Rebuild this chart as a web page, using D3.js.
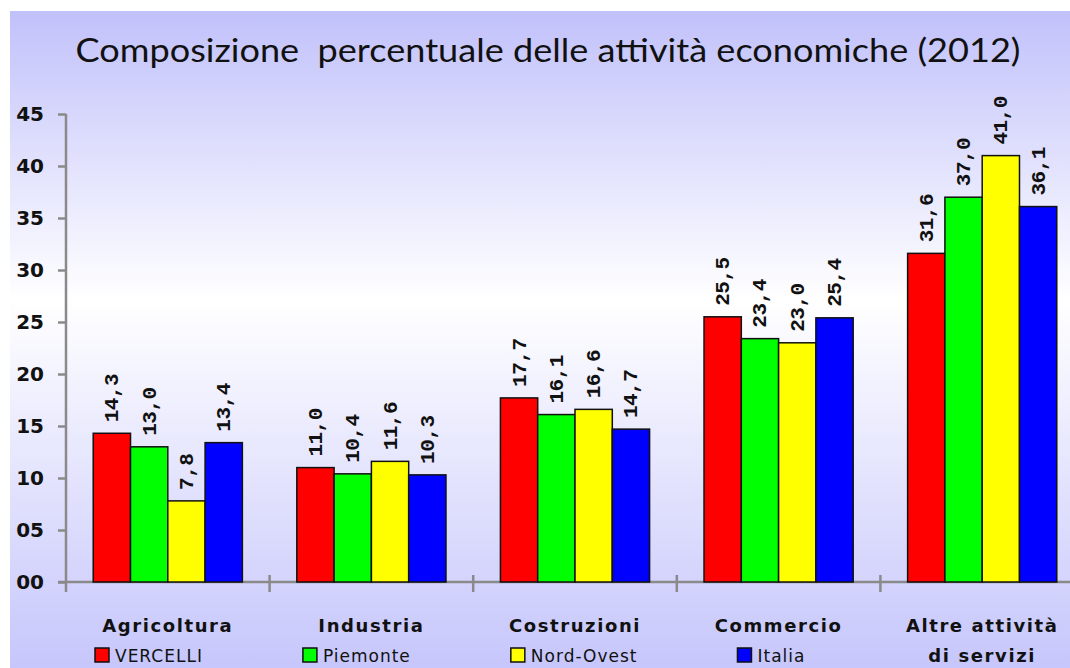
<!DOCTYPE html>
<html>
<head>
<meta charset="utf-8">
<script src="https://cdn.jsdelivr.net/npm/d3@7"></script>
<style>
  body { margin: 0; background: #fff; }
  svg { display: block; }
</style>
</head>
<body>
<div id="chart"></div>
<script>
// data
const categories = ["Agricoltura", "Industria", "Costruzioni", "Commercio", "Altre attività\ndi servizi"];
const series = ["VERCELLI", "Piemonte", "Nord-Ovest", "Italia"];
const seriesColors = ["#ff0000", "#00ff00", "#ffff00", "#0000ff"];
const vercelli = [14.3, 11.0, 17.7, 25.5, 31.6];
const piemonte = [13.0, 10.4, 16.1, 23.4, 37.0];
const nordOvest = [7.8, 11.6, 16.6, 23.0, 41.0];
const italia = [13.4, 10.3, 14.7, 25.4, 36.1];
const yTicks = [0, 5, 10, 15, 20, 25, 30, 35, 40, 45];
const title = "Composizione  percentuale delle attività economiche (2012)";

const values = [vercelli, piemonte, nordOvest, italia];

const width = 1070, height = 668;
const margin = { top: 114, left: 66, bottom: 86 };

const svg = d3.select("#chart")
    .append("svg")
    .attr("width", width)
    .attr("height", height);

// background gradient
const grad = svg.append("defs").append("linearGradient")
    .attr("id", "bg")
    .attr("x1", 0).attr("y1", 0).attr("x2", 0).attr("y2", 1);
grad.append("stop").attr("offset", "0%").attr("stop-color", "#c1c1fb");
grad.append("stop").attr("offset", "44%").attr("stop-color", "#ffffff");
grad.append("stop").attr("offset", "100%").attr("stop-color", "#c6c6fc");

svg.append("rect")
    .attr("x", 10).attr("y", 11)
    .attr("width", width - 10).attr("height", height - 11)
    .attr("fill", "url(#bg)");

// scales
const x0 = d3.scaleBand()
    .domain(categories)
    .range([margin.left, 1084])
    .padding(0);

const x1 = d3.scaleBand()
    .domain(series)
    .range([0, x0.bandwidth()])
    .paddingInner(0)
    .paddingOuter(0.73);

const y = d3.scaleLinear()
    .domain([0, 45])
    .range([height - margin.bottom, margin.top]);

const AXIS = "#8a8a8a";

// title (double space kept as in the original)
svg.append("text")
    .attr("x", 548)
    .attr("y", 62)
    .attr("text-anchor", "middle")
    .style("white-space", "pre")
    .attr("font-family", "Lato, 'Open Sans', sans-serif")
    .attr("font-size", 33)
    .attr("textLength", 945)
    .attr("lengthAdjust", "spacingAndGlyphs")
    .attr("fill", "#111")
    .text(title);

// y axis
const yAxis = svg.append("g")
    .attr("transform", `translate(${margin.left},0)`)
    .call(d3.axisLeft(y)
        .tickValues(yTicks)
        .tickSize(8)
        .tickSizeOuter(0)
        .tickPadding(14)
        .tickFormat(d3.format("02d")));
yAxis.select(".domain").remove();
yAxis.selectAll(".tick line").attr("stroke", AXIS).attr("stroke-width", 2.5);
yAxis.selectAll(".tick text")
    .attr("font-family", "'DejaVu Sans', Verdana, sans-serif")
    .attr("font-weight", "bold")
    .attr("font-size", 20)
    .attr("fill", "#111");

// axis lines
svg.append("line")
    .attr("x1", margin.left).attr("x2", margin.left)
    .attr("y1", y(45)).attr("y2", y(0) + 10)
    .attr("stroke", AXIS).attr("stroke-width", 2.5);
svg.append("line")
    .attr("x1", margin.left - 8).attr("x2", 1084)
    .attr("y1", y(0)).attr("y2", y(0))
    .attr("stroke", AXIS).attr("stroke-width", 2.5);

// x ticks at band boundaries
svg.append("g")
    .selectAll("line")
    .data(categories.slice(1))
    .enter().append("line")
    .attr("x1", d => x0(d)).attr("x2", d => x0(d))
    .attr("y1", y(0) - 7).attr("y2", y(0) + 10)
    .attr("stroke", AXIS).attr("stroke-width", 2.5);

// bars
const groups = svg.append("g")
    .selectAll("g")
    .data(categories)
    .enter().append("g")
    .attr("transform", d => `translate(${x0(d)},0)`);

groups.selectAll("rect")
    .data((d, i) => series.map((s, j) => ({ s, j, v: values[j][i] })))
    .enter().append("rect")
    .attr("x", d => x1(d.s))
    .attr("width", x1.bandwidth())
    .attr("y", d => y(d.v))
    .attr("height", d => y(0) - y(d.v))
    .attr("fill", d => seriesColors[d.j])
    .attr("stroke", "#111")
    .attr("stroke-width", 1.5);

// value labels, rotated
groups.selectAll("text.val")
    .data((d, i) => series.map((s, j) => ({ s, j, v: values[j][i] })))
    .enter().append("text")
    .attr("class", "val")
    .attr("transform", d => `translate(${x1(d.s) + x1.bandwidth() / 2 + 1},${y(d.v) - 11}) rotate(-90)`)
    .attr("dominant-baseline", "central")
    .attr("font-family", "'Liberation Mono', 'DejaVu Sans Mono', monospace")
    .attr("font-weight", "bold")
    .attr("font-size", 21)
    .attr("letter-spacing", -0.5)
    .attr("fill", "#111")
    .text(d => d3.format(".1f")(d.v).replace(".", ","));

// category labels
const catLabels = svg.append("g")
    .selectAll("text")
    .data(categories)
    .enter().append("text")
    .attr("x", d => x0(d) + x0.bandwidth() / 2)
    .attr("y", 632)
    .attr("text-anchor", "middle")
    .attr("font-family", "'DejaVu Sans', Verdana, sans-serif")
    .attr("font-weight", "bold")
    .attr("font-size", 18)
    .attr("letter-spacing", 1.6)
    .attr("fill", "#111");

catLabels.selectAll("tspan")
    .data(d => d.split("\n"))
    .enter().append("tspan")
    .attr("x", function () { return d3.select(this.parentNode).attr("x"); })
    .attr("dy", (d, i) => i === 0 ? 0 : 30)
    .text(d => d);

// legend
const legend = svg.append("g");
let lx = 95;
series.forEach((s, j) => {
    legend.append("rect")
        .attr("x", lx).attr("y", 648)
        .attr("width", 14).attr("height", 14)
        .attr("fill", seriesColors[j])
        .attr("stroke", "#111")
        .attr("stroke-width", 1.5);
    const t = legend.append("text")
        .attr("x", lx + 20)
        .attr("y", 662)
        .attr("font-family", "'DejaVu Sans', Verdana, sans-serif")
        .attr("font-size", 17)
        .attr("letter-spacing", 1)
        .attr("fill", "#111")
        .text(s);
    lx = lx + 20 + t.node().getComputedTextLength() + 100;
});
</script>
</body>
</html>
